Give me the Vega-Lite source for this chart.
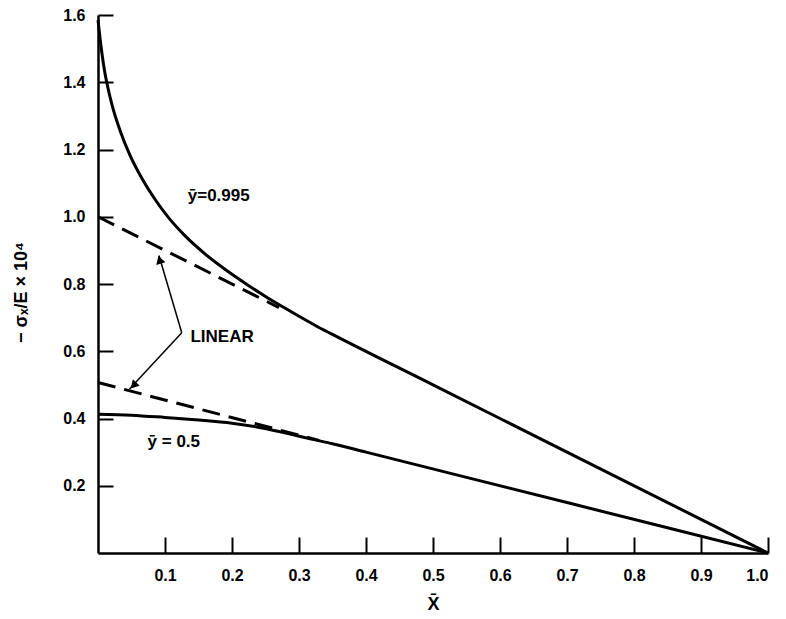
{
  "$schema": "https://vega.github.io/schema/vega-lite/v6.json",
  "width": 670,
  "height": 538,
  "autosize": {"type": "none"},
  "padding": {"left": 98, "top": 15, "right": 18, "bottom": 66},
  "background": "white",
  "config": {
    "view": {"stroke": null},
    "font": "Liberation Sans",
    "axis": {
      "domainColor": "black", "domainWidth": 2.5, "tickColor": "black", "tickWidth": 2,
      "grid": false, "labelColor": "black", "titleColor": "black",
      "labelFont": "Liberation Sans", "labelFontSize": 16, "labelFontWeight": "bold",
      "titleFont": "Liberation Sans", "titleFontSize": 18, "titleFontWeight": "bold"
    }
  },
  "datasets": {
    "curves": [
      {"series": "y0995", "x": 0, "y": 1.585},
      {"series": "y0995", "x": 0.003, "y": 1.532},
      {"series": "y0995", "x": 0.006, "y": 1.484},
      {"series": "y0995", "x": 0.0104, "y": 1.427},
      {"series": "y0995", "x": 0.013, "y": 1.40},
      {"series": "y0995", "x": 0.021, "y": 1.332},
      {"series": "y0995", "x": 0.033, "y": 1.256},
      {"series": "y0995", "x": 0.048, "y": 1.182},
      {"series": "y0995", "x": 0.065, "y": 1.116},
      {"series": "y0995", "x": 0.085, "y": 1.052},
      {"series": "y0995", "x": 0.105, "y": 0.998},
      {"series": "y0995", "x": 0.13, "y": 0.943},
      {"series": "y0995", "x": 0.16, "y": 0.889},
      {"series": "y0995", "x": 0.19, "y": 0.843},
      {"series": "y0995", "x": 0.225, "y": 0.795},
      {"series": "y0995", "x": 0.25, "y": 0.763},
      {"series": "y0995", "x": 0.275, "y": 0.733},
      {"series": "y0995", "x": 0.3, "y": 0.704},
      {"series": "y0995", "x": 0.325, "y": 0.676},
      {"series": "y0995", "x": 0.35, "y": 0.65},
      {"series": "y0995", "x": 0.5, "y": 0.5},
      {"series": "y0995", "x": 0.7, "y": 0.3},
      {"series": "y0995", "x": 1.0, "y": 0.0},
      {"series": "y05", "x": 0, "y": 0.413},
      {"series": "y05", "x": 0.05, "y": 0.41},
      {"series": "y05", "x": 0.1, "y": 0.403},
      {"series": "y05", "x": 0.145, "y": 0.396},
      {"series": "y05", "x": 0.2, "y": 0.386},
      {"series": "y05", "x": 0.245, "y": 0.372},
      {"series": "y05", "x": 0.29, "y": 0.352},
      {"series": "y05", "x": 0.32, "y": 0.338},
      {"series": "y05", "x": 0.35, "y": 0.325},
      {"series": "y05", "x": 0.4, "y": 0.30},
      {"series": "y05", "x": 0.7, "y": 0.15},
      {"series": "y05", "x": 1.0, "y": 0.0}
    ],
    "linear": [
      {"series": "lin0995", "x": 0, "y": 1.0},
      {"series": "lin0995", "x": 0.27, "y": 0.73},
      {"series": "lin05", "x": 0, "y": 0.507},
      {"series": "lin05", "x": 0.33, "y": 0.335}
    ],
    "arrows": [
      {"arrow": "up", "x": 0.125, "y": 0.655},
      {"arrow": "up", "x": 0.091, "y": 0.885},
      {"arrow": "down", "x": 0.125, "y": 0.655},
      {"arrow": "down", "x": 0.047, "y": 0.488}
    ],
    "heads": [
      {"arrow": "up", "x": 0.092, "y": 0.872},
      {"arrow": "down", "x": 0.053, "y": 0.498}
    ],
    "labels": [
      {"text": "ȳ=0.995", "x": 0.134, "y": 1.062},
      {"text": "ȳ = 0.5", "x": 0.074, "y": 0.33},
      {"text": "LINEAR", "x": 0.138, "y": 0.643}
    ]
  },
  "layer": [
    {
      "data": {"name": "curves"},
      "mark": {"type": "line", "color": "black", "strokeWidth": 3, "interpolate": "monotone"},
      "encoding": {
        "x": {"field": "x", "type": "quantitative", "scale": {"domain": [0, 1], "nice": false, "zero": false},
          "axis": {"values": [0.1,0.2,0.3,0.4,0.5,0.6,0.7,0.8,0.9,1.0], "format": ".1f", "tickSize": -16, "labelPadding": 30, "title": "X̄", "titlePadding": 12}},
        "y": {"field": "y", "type": "quantitative", "scale": {"domain": [0, 1.6], "nice": false, "zero": false},
          "axis": {"values": [0.2,0.4,0.6,0.8,1.0,1.2,1.4,1.6], "format": ".1f", "tickSize": -15, "labelPadding": 28, "title": "− σₓ/E × 10⁴", "titleX": -68, "titleY": 277}},
        "detail": {"field": "series"}
      }
    },
    {
      "data": {"name": "linear"},
      "mark": {"type": "line", "color": "black", "strokeWidth": 3, "strokeDash": [18, 9]},
      "encoding": {
        "x": {"field": "x", "type": "quantitative"},
        "y": {"field": "y", "type": "quantitative"},
        "detail": {"field": "series"}
      }
    },
    {
      "data": {"name": "arrows"},
      "mark": {"type": "line", "color": "black", "strokeWidth": 1.5},
      "encoding": {
        "x": {"field": "x", "type": "quantitative"},
        "y": {"field": "y", "type": "quantitative"},
        "detail": {"field": "arrow"}
      }
    },
    {
      "data": {"name": "heads"},
      "transform": [{"filter": "datum.arrow == 'up'"}],
      "mark": {"type": "point", "shape": "triangle-up", "filled": true, "color": "black", "size": 90, "angle": 343, "opacity": 1},
      "encoding": {
        "x": {"field": "x", "type": "quantitative"},
        "y": {"field": "y", "type": "quantitative"}
      }
    },
    {
      "data": {"name": "heads"},
      "transform": [{"filter": "datum.arrow == 'down'"}],
      "mark": {"type": "point", "shape": "triangle-up", "filled": true, "color": "black", "size": 90, "angle": 223, "opacity": 1},
      "encoding": {
        "x": {"field": "x", "type": "quantitative"},
        "y": {"field": "y", "type": "quantitative"}
      }
    },
    {
      "data": {"name": "labels"},
      "mark": {"type": "text", "align": "left", "baseline": "middle", "font": "Liberation Sans", "fontSize": 17, "fontWeight": "bold", "color": "black"},
      "encoding": {
        "x": {"field": "x", "type": "quantitative"},
        "y": {"field": "y", "type": "quantitative"},
        "text": {"field": "text"}
      }
    }
  ]
}
